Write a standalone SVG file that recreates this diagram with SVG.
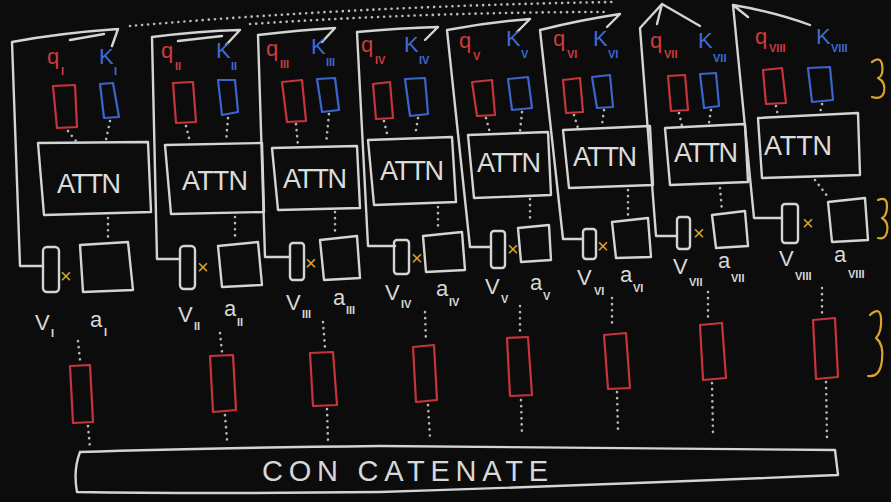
<svg xmlns="http://www.w3.org/2000/svg" width="891" height="502" viewBox="0 0 891 502">
  <style>
    .wl{fill:none;stroke:#d4d4d4;stroke-width:2.4;stroke-linecap:round;stroke-linejoin:round}
    .rd{fill:none;stroke:#c8343c;stroke-width:2.2;stroke-linejoin:round}
    .bl{fill:none;stroke:#3b64cc;stroke-width:2.2;stroke-linejoin:round}
    .dt{fill:none;stroke:#b8b8b8;stroke-width:2.6;stroke-dasharray:0.1 6;stroke-linecap:round}
    .yl{fill:none;stroke:#d9a62a;stroke-width:2.2;stroke-linecap:round;stroke-linejoin:round}
    text{font-family:"Liberation Sans","DejaVu Sans",sans-serif}
    .attn{fill:#dcdcdc;font-size:27px}
    .q{fill:#d03a3f;font-size:22px}
    .k{fill:#3f6ad6;font-size:22px}
    .w{fill:#d8d8d8;font-size:22px}
    .sq{fill:#d03a3f;font-size:11px;font-weight:bold}
    .sk{fill:#3f6ad6;font-size:11px;font-weight:bold}
    .sw{fill:#d8d8d8;font-size:11px;font-weight:bold}
    .x{fill:#d9a62a;font-size:20px}
  </style>
  <rect width="891" height="502" fill="#0c0c0c"/>

  <!-- loop-back frames, arrows and dotted links -->
  <g id="connectors">
    <path class="dt" d="M130 26 Q 360 6 612 2"/>
    <path class="dt" d="M250 24 Q 430 12 605 12"/>

    <path class="wl" d="M43 266 L20 266 L12 42 Q 60 33 118 29 M118 29 L112 46 M70 40 L104 34"/>
    <path class="wl" d="M180 259 L157 259 L152 37 Q 200 31 240 30 M240 30 L226 45 M178 41 L222 36"/>
    <path class="wl" d="M290 257 L265 257 L258 35 Q 300 30 335 28 M335 28 L322 42"/>
    <path class="wl" d="M395 246 L368 246 L357 32 Q 400 28 438 27 M438 27 L425 40"/>
    <path class="wl" d="M490 247 L470 247 L447 30 Q 490 22 530 19 M530 19 L517 32"/>
    <path class="wl" d="M583 239 L563 239 L540 30 Q 580 20 620 14 M620 14 L607 27"/>
    <path class="wl" d="M677 236 L656 236 L640 28 L662 4 L700 26 M662 4 L657 24"/>
    <path class="wl" d="M782 218 L754 218 L733 5 Q 775 12 810 25 M733 5 L748 17"/>

    <!-- q/k into attention, attention out to the square -->
    <path class="dt" d="M68 131 L76 141 M110 121 L106 140 M108 218 L108 240"/>
    <path class="dt" d="M186 126 L190 142 M228 118 L226 142 M235 217 L235 240"/>
    <path class="dt" d="M296 124 L298 146 M329 114 L326 144 M335 212 L335 234"/>
    <path class="dt" d="M384 121 L388 138 M418 118 L415 136 M438 207 L438 230"/>
    <path class="dt" d="M486 118 L490 133 M522 112 L520 131 M530 199 L530 222"/>
    <path class="dt" d="M574 115 L578 128 M604 110 L602 125 M628 190 L628 216"/>
    <path class="dt" d="M679 113 L682 126 M711 110 L709 123 M720 188 L722 211"/>
    <path class="dt" d="M776 106 L778 116 M822 104 L820 113 M815 180 L828 197"/>

    <!-- outputs down to concat -->
    <path class="dt" d="M78 341 L80 360 M88 426 L90 448"/>
    <path class="dt" d="M220 333 L222 352 M225 415 L227 440"/>
    <path class="dt" d="M323 322 L325 348 M327 409 L328 440"/>
    <path class="dt" d="M425 312 L426 342 M428 405 L430 438"/>
    <path class="dt" d="M520 306 L520 333 M521 400 L522 436"/>
    <path class="dt" d="M612 298 L612 328 M617 392 L618 432"/>
    <path class="dt" d="M708 292 L708 320 M712 383 L713 432"/>
    <path class="dt" d="M822 288 L822 313 M826 382 L827 438"/>
  </g>

  <g id="head-1">
    <text class="q" x="47" y="64">q</text><text class="sq" x="61" y="75">I</text>
    <text class="k" x="99" y="64">K</text><text class="sk" x="114" y="75">I</text>
    <polygon class="rd" points="53,86 75,85 77,127 57,128"/>
    <polygon class="bl" points="100,84 113,83 119,117 104,118"/>
    <polygon class="wl" points="38,143 148,142 151,212 44,215"/>
    <text class="attn" x="57" y="193" textLength="64">ATTN</text>
    <rect class="wl" x="43" y="247" width="16" height="45" rx="4"/>
    <text class="x" x="60" y="283">×</text>
    <polygon class="wl" points="80,245 128,242 133,290 83,292"/>
    <text class="w" x="35" y="330">V</text><text class="sw" x="51" y="337">I</text>
    <text class="w" x="90" y="327">a</text><text class="sw" x="104" y="336">I</text>
    <polygon class="rd" points="70,366 90,365 93,422 73,423"/>
  </g>

  <g id="head-2">
    <text class="q" x="161" y="58">q</text><text class="sq" x="175" y="70">II</text>
    <text class="k" x="216" y="58">K</text><text class="sk" x="231" y="70">II</text>
    <polygon class="rd" points="173,83 193,82 196,122 176,123"/>
    <polygon class="bl" points="218,80 235,80 238,112 222,115"/>
    <polygon class="wl" points="165,145 262,143 264,212 171,214"/>
    <text class="attn" x="182" y="190" textLength="66">ATTN</text>
    <rect class="wl" x="180" y="246" width="15" height="43" rx="4"/>
    <text class="x" x="197" y="274">×</text>
    <polygon class="wl" points="218,246 258,242 262,285 222,287"/>
    <text class="w" x="178" y="322">V</text><text class="sw" x="194" y="330">II</text>
    <text class="w" x="224" y="316">a</text><text class="sw" x="237" y="326">II</text>
    <polygon class="rd" points="210,356 233,355 236,410 213,412"/>
  </g>

  <g id="head-3">
    <text class="q" x="266" y="56">q</text><text class="sq" x="280" y="68">III</text>
    <text class="k" x="311" y="54">K</text><text class="sk" x="326" y="66">III</text>
    <polygon class="rd" points="282,82 302,80 306,121 287,122"/>
    <polygon class="bl" points="317,79 335,78 339,110 322,112"/>
    <polygon class="wl" points="272,148 357,146 360,208 278,210"/>
    <text class="attn" x="283" y="188" textLength="64">ATTN</text>
    <rect class="wl" x="290" y="243" width="14" height="37" rx="3"/>
    <text class="x" x="305" y="270">×</text>
    <polygon class="wl" points="320,240 357,236 360,278 324,280"/>
    <text class="w" x="286" y="310">V</text><text class="sw" x="302" y="318">III</text>
    <text class="w" x="333" y="305">a</text><text class="sw" x="346" y="314">III</text>
    <polygon class="rd" points="310,353 333,352 337,405 313,406"/>
  </g>

  <g id="head-4">
    <text class="q" x="361" y="52">q</text><text class="sq" x="375" y="64">IV</text>
    <text class="k" x="404" y="52">K</text><text class="sk" x="419" y="64">IV</text>
    <polygon class="rd" points="373,84 390,82 393,118 376,119"/>
    <polygon class="bl" points="405,79 425,78 428,114 410,116"/>
    <polygon class="wl" points="368,140 452,137 456,202 374,205"/>
    <text class="attn" x="380" y="180" textLength="64">ATTN</text>
    <rect class="wl" x="394" y="240" width="15" height="34" rx="3"/>
    <text class="x" x="411" y="265">×</text>
    <polygon class="wl" points="423,236 462,232 465,270 426,272"/>
    <text class="w" x="385" y="300">V</text><text class="sw" x="401" y="308">IV</text>
    <text class="w" x="436" y="296">a</text><text class="sw" x="449" y="306">IV</text>
    <polygon class="rd" points="413,347 434,345 437,400 416,402"/>
  </g>

  <g id="head-5">
    <text class="q" x="459" y="48">q</text><text class="sq" x="473" y="60">V</text>
    <text class="k" x="506" y="46">K</text><text class="sk" x="521" y="58">V</text>
    <polygon class="rd" points="472,82 492,80 495,115 477,116"/>
    <polygon class="bl" points="508,79 528,77 532,108 512,110"/>
    <polygon class="wl" points="468,135 548,132 551,195 474,198"/>
    <text class="attn" x="477" y="172" textLength="64">ATTN</text>
    <rect class="wl" x="491" y="231" width="14" height="37" rx="3"/>
    <text class="x" x="507" y="256">×</text>
    <polygon class="wl" points="518,228 549,225 551,260 521,262"/>
    <text class="w" x="485" y="294">V</text><text class="sw" x="501" y="303">V</text>
    <text class="w" x="530" y="290">a</text><text class="sw" x="543" y="300">V</text>
    <polygon class="rd" points="507,338 528,337 532,395 510,396"/>
  </g>

  <g id="head-6">
    <text class="q" x="553" y="46">q</text><text class="sq" x="567" y="58">VI</text>
    <text class="k" x="593" y="46">K</text><text class="sk" x="608" y="58">VI</text>
    <polygon class="rd" points="563,80 580,78 583,112 566,113"/>
    <polygon class="bl" points="592,77 610,75 613,107 597,108"/>
    <polygon class="wl" points="563,130 650,126 653,185 569,188"/>
    <text class="attn" x="573" y="166" textLength="64">ATTN</text>
    <rect class="wl" x="583" y="229" width="13" height="30" rx="3"/>
    <text class="x" x="597" y="253">×</text>
    <polygon class="wl" points="612,222 648,218 651,257 616,258"/>
    <text class="w" x="577" y="285">V</text><text class="sw" x="594" y="295">VI</text>
    <text class="w" x="620" y="282">a</text><text class="sw" x="633" y="292">VI</text>
    <polygon class="rd" points="604,335 626,333 630,388 608,389"/>
  </g>

  <g id="head-7">
    <text class="q" x="650" y="48">q</text><text class="sq" x="664" y="58">VII</text>
    <text class="k" x="698" y="48">K</text><text class="sk" x="713" y="62">VII</text>
    <polygon class="rd" points="668,76 685,75 688,110 671,111"/>
    <polygon class="bl" points="700,74 716,73 719,106 704,108"/>
    <polygon class="wl" points="665,128 745,124 748,182 670,185"/>
    <text class="attn" x="674" y="162" textLength="64">ATTN</text>
    <rect class="wl" x="677" y="217" width="13" height="32" rx="3"/>
    <text class="x" x="693" y="240">×</text>
    <polygon class="wl" points="712,215 745,211 748,246 716,248"/>
    <text class="w" x="673" y="274">V</text><text class="sw" x="689" y="286">VII</text>
    <text class="w" x="718" y="268">a</text><text class="sw" x="731" y="282">VII</text>
    <polygon class="rd" points="700,325 722,323 726,378 703,380"/>
  </g>

  <g id="head-8">
    <text class="q" x="755" y="44">q</text><text class="sq" x="769" y="52">VIII</text>
    <text class="k" x="816" y="44">K</text><text class="sk" x="831" y="52">VIII</text>
    <polygon class="rd" points="763,70 782,68 786,103 766,104"/>
    <polygon class="bl" points="808,68 830,67 833,100 812,102"/>
    <polygon class="wl" points="758,118 858,113 860,175 762,178"/>
    <text class="attn" x="764" y="155" textLength="68">ATTN</text>
    <rect class="wl" x="782" y="204" width="16" height="39" rx="3"/>
    <text class="x" x="802" y="230">×</text>
    <polygon class="wl" points="828,202 865,198 868,240 832,242"/>
    <text class="w" x="779" y="266">V</text><text class="sw" x="795" y="280">VIII</text>
    <text class="w" x="834" y="262">a</text><text class="sw" x="848" y="278">VIII</text>
    <polygon class="rd" points="813,320 835,318 838,377 816,379"/>
  </g>

  <!-- stage braces on the right -->
  <g id="braces">
    <path class="yl" d="M872 62 Q 880 56 882 64 Q 884 76 878 78 Q 886 82 884 92 Q 882 100 872 97"/>
    <path class="yl" d="M878 200 Q 887 196 887 206 Q 887 216 882 218 Q 889 222 887 232 Q 885 240 878 238"/>
    <path class="yl" d="M870 315 Q 880 306 881 318 Q 882 332 876 338 Q 884 344 882 360 Q 880 378 868 376"/>
  </g>

  <g id="concat">
    <path class="wl" d="M80 452 Q 200 448 380 446 Q 600 447 835 450 L838 475 Q 600 485 380 492 Q 200 494 77 492 Q 73 470 80 452"/>
    <text x="262" y="481" fill="#d8d8d8" font-size="29" textLength="286" font-family="Liberation Sans">CON CATENATE</text>
  </g>
</svg>
